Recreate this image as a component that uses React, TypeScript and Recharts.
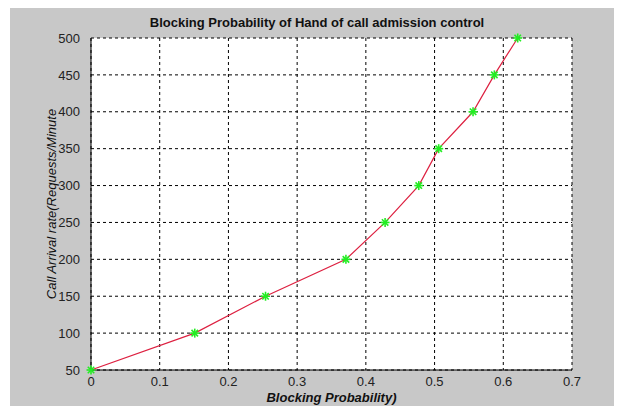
import { LineChart, Line, XAxis, YAxis, CartesianGrid, Label } from 'recharts';

const blockingProb = [0, 0.151, 0.254, 0.371, 0.428, 0.477, 0.506, 0.556, 0.587, 0.621];
const arrivalRate = [50, 100, 150, 200, 250, 300, 350, 400, 450, 500];
const xTicks = [0, 0.1, 0.2, 0.3, 0.4, 0.5, 0.6, 0.7];
const yTicks = [50, 100, 150, 200, 250, 300, 350, 400, 450, 500];

const data = blockingProb.map((p, i) => ({ p, rate: arrivalRate[i] }));

const font = 'Liberation Sans, Arial, sans-serif';

function Star(props: any) {
  const { cx, cy } = props;
  if (cx == null || cy == null) return null;
  const r = 4.5;
  const d = r * 0.72;
  return (
    <g stroke="#22ee22" strokeWidth={1.6}>
      <line x1={cx - r} y1={cy} x2={cx + r} y2={cy} />
      <line x1={cx} y1={cy - r} x2={cx} y2={cy + r} />
      <line x1={cx - d} y1={cy - d} x2={cx + d} y2={cy + d} />
      <line x1={cx - d} y1={cy + d} x2={cx + d} y2={cy - d} />
    </g>
  );
}

export default function App() {
  return (
    <div style={{ position: 'relative', width: 614, height: 399, background: '#c8c8c8', marginLeft: 2, marginTop: -1 }}>
      <div
        style={{
          position: 'absolute',
          top: 8,
          width: 614,
          left: 0,
          textAlign: 'center',
          fontFamily: font,
          fontWeight: 'bold',
          fontSize: 13,
          color: '#111',
        }}
      >
        Blocking Probability of Hand of call admission control
      </div>
      <LineChart
        width={614}
        height={399}
        data={data}
        margin={{ top: 31, right: 52, bottom: 0, left: 21 }}
        style={{ fontFamily: font }}
      >
        <CartesianGrid
          stroke="#000"
          strokeDasharray="3 3"
          fill="#ffffff"
          fillOpacity={1}
          horizontalValues={yTicks}
          verticalValues={xTicks}
        />
        <XAxis
          dataKey="p"
          type="number"
          domain={[0, 0.7]}
          ticks={xTicks}
          tickFormatter={(v) => String(v)}
          tickLine={false}
          axisLine={{ stroke: '#000' }}
          tick={{ fill: '#222', fontSize: 13 }}
          tickMargin={1}
          height={36}
        >
          <Label
            value="Blocking Probability)"
            position="insideBottom"
            offset={4}
            style={{ fontWeight: 'bold', fontStyle: 'italic', fontSize: 13, fill: '#111' }}
          />
        </XAxis>
        <XAxis xAxisId="top" orientation="top" dataKey="p" type="number" domain={[0, 0.7]} tick={false} tickLine={false} axisLine={{ stroke: '#000' }} height={0} />
        <YAxis
          type="number"
          domain={[50, 500]}
          ticks={yTicks}
          tickLine={false}
          axisLine={{ stroke: '#000' }}
          tick={{ fill: '#222', fontSize: 13 }}
          tickMargin={5}
          width={60}
        >
          <Label
            value="Call Arrival rate(Requests/Minute"
            angle={-90}
            position="insideLeft"
            offset={20}
            style={{ textAnchor: 'middle', fontStyle: 'italic', fontSize: 13, fill: '#111' }}
          />
        </YAxis>
        <YAxis yAxisId="right" orientation="right" type="number" domain={[50, 500]} tick={false} tickLine={false} axisLine={{ stroke: '#000' }} width={0} />
        <Line
          dataKey="rate"
          stroke="#dd2040"
          strokeWidth={1.2}
          type="linear"
          dot={<Star />}
          isAnimationActive={false}
        />
      </LineChart>
    </div>
  );
}
